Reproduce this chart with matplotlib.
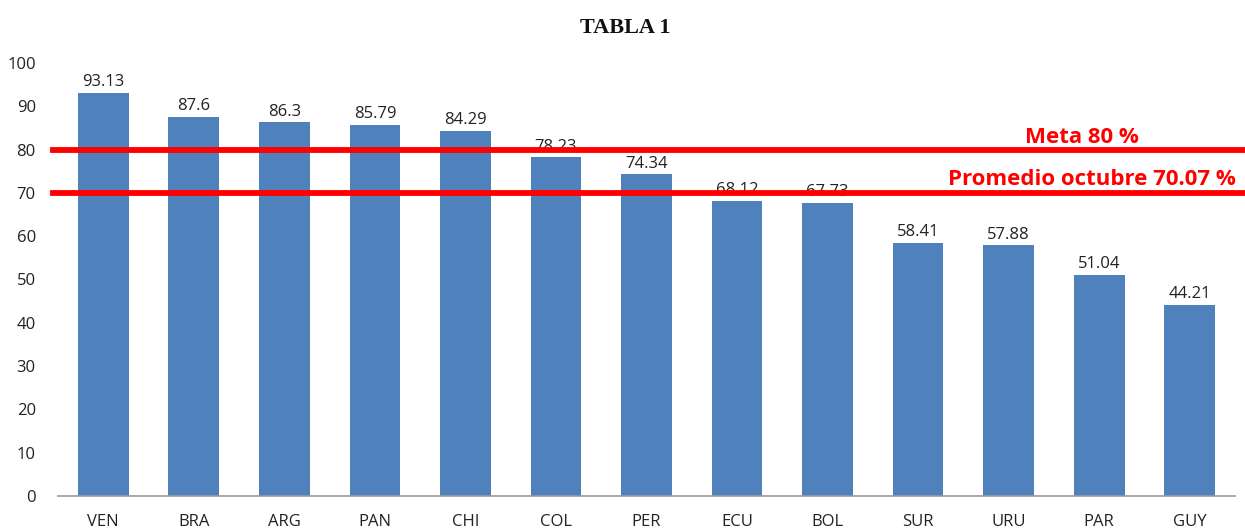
import matplotlib
matplotlib.use("Agg")
import matplotlib.pyplot as plt

categories = ["VEN", "BRA", "ARG", "PAN", "CHI", "COL", "PER", "ECU", "BOL", "SUR", "URU", "PAR", "GUY"]
values = [93.13, 87.6, 86.3, 85.79, 84.29, 78.23, 74.34, 68.12, 67.73, 58.41, 57.88, 51.04, 44.21]
value_labels = ["93.13", "87.6", "86.3", "85.79", "84.29", "78.23", "74.34", "68.12", "67.73", "58.41", "57.88", "51.04", "44.21"]
meta = 80
promedio = 70.07
meta_label = "Meta 80 %"
promedio_label = "Promedio octubre 70.07 %"
title = "TABLA 1"
yticks = [0, 10, 20, 30, 40, 50, 60, 70, 80, 90, 100]

plt.rcParams['font.family'] = ['Open Sans', 'DejaVu Sans']

fig = plt.figure(figsize=(12.45, 5.29), dpi=100)
ax = fig.add_axes([58/1245, 1-496/529, (1235-58)/1245, (496-63)/529])

x = list(range(len(categories)))
ax.bar(x, values, width=0.56, color="#4F81BD", zorder=2)
for xi, v, lab in zip(x, values, value_labels):
    ax.text(xi, v + 0.6, lab, ha="center", va="bottom", fontsize=12, color="#222222")

ax.set_xlim(-0.5, len(categories) - 0.5)
ax.set_ylim(0, 100)
ax.set_yticks(yticks)
ax.set_xticks(x)
ax.set_xticklabels(categories, fontsize=12)
ax.tick_params(axis="both", length=0, labelsize=12, colors="#222222")
ax.tick_params(axis="y", pad=16)
ax.tick_params(axis="x", pad=13)
for s in ["top", "right", "left"]:
    ax.spines[s].set_visible(False)
ax.spines["bottom"].set_color("#999999")
ax.spines["bottom"].set_linewidth(1.2)

for val in (meta, promedio):
    ax.axhline(val, xmin=-0.004, xmax=1.01, color="#FF0000", linewidth=4.2, clip_on=False, zorder=3)

ax.text(1082/1245, 1-137.5/529, meta_label, transform=fig.transFigure, ha="center", va="center",
        fontsize=16, fontweight="bold", color="#FF0000")
ax.text(1092/1245, 1-179.5/529, promedio_label, transform=fig.transFigure, ha="center", va="center",
        fontsize=16, fontweight="bold", color="#FF0000")

fig.text(625/1245, 1-28/529, title, ha="center", va="center", fontsize=16, fontweight="bold",
         family="Liberation Serif", color="#111111")

fig.savefig("out.png", dpi=100)
